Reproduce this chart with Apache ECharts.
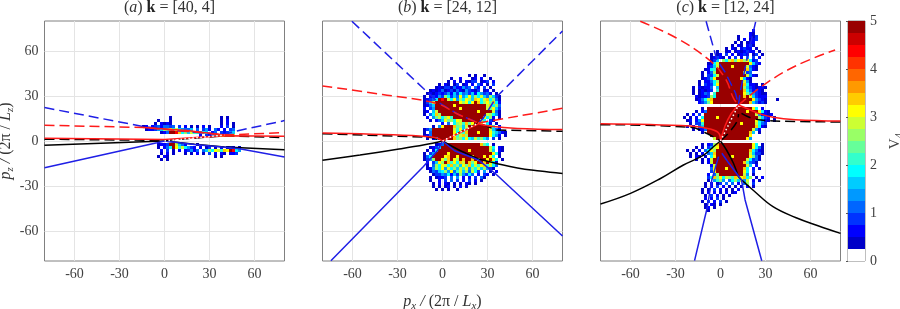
<!DOCTYPE html>
<html><head><meta charset="utf-8">
<style>html,body{margin:0;padding:0;background:#fff}#c{width:900px;height:309px}</style>
<script src="https://cdn.jsdelivr.net/npm/echarts@6/dist/echarts.min.js"></script>
</head><body><div id="c"></div>
<script>
const tickValues = [-60,-30,0,30,60];
// colour levels, each 0.25 wide, 0 to 5
const colorLevels = ['#ffffff','#0000c8','#0000ff','#0033ff','#0066ff','#0099ff','#00ccff','#00ffff','#33ffcc','#66ff99','#99ff66','#ccff33','#ffff00','#ffcc00','#ff9900','#ff6600','#ff3300','#ff0000','#cc0000','#990000'];
const levelKey = '.123456789abcdefghij';
// heat cells: [pz, string of colour levels], cell step 2 in px and pz, starting at the panel's first px
const aStartPx = -16;
const aRows = [
[16,'..........1................1.1'],
[14,'......1...1................1.2'],
[12,'.....1.2121................1.2.1'],
[10,'.12.23424434.3.2.1.1.2.1...2.3.1'],
[8,'..122356a9c7b65446.4.352.42.2.34'],
[6,'.......124jjhd7a6b88576.24.32356'],
[4,'....................2.3246abd9cb'],
[-2,'......1223jjb642...1'],
[-4,'......1.247jc8b7532.2.13.1.2.132.1'],
[-6,'.......2.3.1.2.23524.46a7cb8dcjh75'],
[-8,'.......1.2.1...1.1.2.1.3.2.21.223.'],
[-10,'......1.21...............1.1.'],
[-12,'.......1.1']];
const bStartPx = -16;
const bRows = [
[44,'.................1.1..1'],
[42,'...........1..2...12.2..1'],
[40,'..........1.2.1.2133.123.2'],
[38,'.......1.21.13.12.2.42.1.3'],
[36,'......121331422534.42.3.1'],
[34,'....12124123142153213.12.1'],
[32,'...1212323526374536275342.1'],
[30,'..1.23253a7364c57c6a7b64a631'],
[28,'..12347jhjb7c5a7ca6dc7bd7a41'],
[26,'..136bjjjjjjjjcac7cjd7ac9d72'],
[24,'..1246jjjjjjcjjjjjjjjjjbd7a4'],
[22,'..2.35jjjjjjjjcjjjjjjjjb9c63'],
[20,'..12.6bjjjjjjjjjjjjjcjjjjb41'],
[18,'..1.47dajjjjjjjjjjjjjjjba751'],
[16,'...2.59b7ac8jjjjjjjjjjc7a2.1'],
[14,'....1.246c9a7cbjjjjjjb7.31'],
[12,'........2.4.7ab8d9cjjb.72.1'],
[10,'.....1.5cjjjd9a6bjjjjjjjc7.2'],
[8,'..135jjjjjjjb8c6ajjjjjjjb642.'],
[6,'..1.4jjjjjjjc7a8djjjcjjjc86421'],
[4,'..124jjjjjjjc8bdajjjjjjjc752.1'],
[2,'...1.25jjjjjd9a7c76b8a75.3.1'],
[-2,'......124jjjjjjjjjjjjd97.1'],
[-4,'....1236jjjjjjjjjjjjjjjjb7.21'],
[-6,'...1.27jjjjjjjjjjcjjjjjjb6.21'],
[-8,'..1.35jjjjcjjjjjjjjjjjjjjc71'],
[-10,'..147jjjjcdjjcjjjjdjjjcjc7.1'],
[-12,'..135ajjc9djcajdjjdjajjcjc7.1'],
[-14,'...2.36cajd8c7dbjd9cjjdjc71'],
[-16,'...1.4a7cb7d8a6c9d7b8cd8b74'],
[-18,'...125a7c5b7a6b8c5a7b6a531'],
[-20,'....14367a5c48b6a4b73.5.1.2'],
[-22,'.....133547263a5374.2.32.1'],
[-24,'....1.1223.4.5.2.2.3.41'],
[-26,'....1..2.3.4.3.2.3.2.1'],
[-28,'.....1.2.21.1.1.21.1'],
[-30,'.....1.1.12.1.2.1'],
[-32,'......1.1.1..1']];
const cStartPx = -26;
const cRows = [
[74,'........................2'],
[72,'.......................21'],
[70,'...................1...213'],
[68,'...................1.2.123'],
[66,'..................1.1.122'],
[64,'.................1.21.231'],
[62,'...............1.21.2322.1'],
[60,'............1..12.1212322.1'],
[58,'..........1.12.3.2.1232.13.1'],
[56,'..........12321.2.3.2.5.3.2'],
[54,'..........136.a7bd9cdac723'],
[52,'.........127bjjjjjjjjjjc632'],
[50,'.........236bjjjjcjjjjb421'],
[48,'........1278jjjjjjjjjjd521'],
[46,'.......1.24ajjjjjjjjjb34'],
[44,'.......1.337bjjjjjjjjjb521'],
[42,'.......1236cjjjjjjjjc621'],
[40,'......1.2247ajjjjjjjjb51'],
[38,'......1.3237cjjjjjjjjd7221.1'],
[36,'....1.21224.6jjjjjjjja6321221'],
[34,'....1.12123.8jjjjjjjjd742321'],
[32,'....1.1243.8jjjjjjjjjc9653211'],
[30,'.....21223a7jjjjjjjjjdjc63222'],
[28,'.....1247bdjjjjjjjjjjjjjc5321...1'],
[26,'......2359cjjjjjjjjjjjjd64231'],
[22,'.......1.jjjjjjjjjjjjjjjc7.2'],
[20,'.....1.24jjjjjjjjjjjjjcjjjc721'],
[18,'..1.2.3.jjjjjjjjjjjjjjjjjb52212'],
[16,'.1.1.2.7jjjjcjjjjjjjjjjjjja632.1'],
[14,'..12.25cjjjjjjjjjjjjjjjjjc7521.1'],
[12,'...1.338jjjjjjjjjjjjcjjjjb743'],
[10,'..1.2.46jjjjjjjjjjjjjjjjjd721'],
[8,'....1.224jjjjjjjjjjjjjjjb52'],
[6,'.......1.jjjjjjjjjjjjjjd6.1'],
[4,'..........jjjjjjjjjjjjjc'],
[2,'...........bjjjjjjjjjjc5'],
[-2,'.......1.23adjjjjjjjjjjjc7.1'],
[-4,'.....1.1.35bcjjjjjjjjjjjc741'],
[-6,'..1.1.2.47cajjjjjjjjjjjd7421'],
[-8,'...1.1.2.46djjjjjjjjjjjb6331'],
[-10,'...1.21.1.7cjjjjjcjjjjjc941'],
[-12,'.....1.1.2bjjjjjjjjjjjb7341'],
[-14,'.......1.2bjjjjjjjjjjd8431'],
[-16,'..........2bjjjjjjjjjjb6.2'],
[-18,'..........4cjjjcjjjjjd7.2.1'],
[-20,'..........3cjjjjjjjjjc7.3'],
[-22,'.........2.4ajjjjjjjjb5.1'],
[-24,'.........37d9c7ba8dbcd7a.1.2'],
[-26,'.........1.58a5.47a6b5b.2.1'],
[-28,'........1.2.13.4.4.2.4a.3'],
[-30,'........1.2.3.2.1.1.1.2.1'],
[-32,'.......1.1.3.2.1.1.2'],
[-34,'.......1.2.2.1.2.12'],
[-36,'........1.3.2.1.1'],
[-38,'........2.2.3.1'],
[-40,'.......1.3.2.3.1'],
[-42,'........1.21.1'],
[-44,'........12.1'],
[-46,'.........1']];

// curves, panel a
const aBlueDashed = [[-80,22.3],[-14,9.6],[12,6.5],[40,4.5],[46,6.2],[80,13.6]];
const aRedDashed = [[-80,10.5],[-14,9],[20,6],[40,4],[80,5.6]];
const aRedSolidTop = [[-14,9],[15,7],[44,3.5]];
const aRedSolid = [[-80,1.8],[0,1],[40,3.5],[80,3.2]];
const aBlackDashed = [[-80,1.2],[-20,0.6],[0,0.3],[40,3.5],[80,2.3]];
const aBlackSolid = [[-80,-2.9],[0,0],[20,-2.2],[40,-4],[80,-5.8]];
const aBlueSolid = [[-80,-17.8],[-5,-1.2],[0,0],[20,-2.4],[40,-4.2],[50,-5.2],[80,-10.7]];
const aWhiteDotted = [[0,0],[40,4]];
// curves, panel b
const bBlueDashed = [[-60.4,79.8],[-12.7,35],[-3,26],[10,18],[24,12],[27,15],[36.2,29.6],[80,73.3]];
const bRedDashedLeft = [[-80,36.7],[-40,31],[-3.8,25],[10,18],[24,12]];
const bRedDashedRight = [[24,12],[50,16.5],[80,21.8]];
const bRedSolidLeft = [[-80,5.3],[-20,3.6],[-4,2],[0,0]];
const bRedSolidMid = [[0,0],[24,11.5]];
const bRedSolidRight = [[24,11.5],[32,9.8],[50,8.3],[80,7.6]];
const bBlackDashed = [[-80,4.9],[-8,2.4],[0,0],[14,7],[24,12],[36,7.3],[80,6.5]];
const bBlackSolidLeft = [[-80,-12.8],[-55,-9.3],[-30,-5.5],[-12,-2.5],[0,0]];
const bBlackSolidMid = [[0,0],[12,-6.5],[24,-12]];
const bBlackSolidRight = [[24,-12],[36,-15],[50,-18],[65,-20],[80,-21.7]];
const bBlueSolid = [[-74.4,-79.8],[-12.7,-17],[-3,-6],[0,0],[8,-6.5],[24,-12.7],[35,-21.5],[80,-63.3]];
const bWhiteDotted = [[0,0],[24,12]];
// curves, panel c
const cBlueDashedLeft = [[-9.6,79.8],[-2.4,54],[3,46],[10,32],[12,24]];
const cBlueDashedRight = [[12,24],[13,32],[17.5,54],[23.5,79.8]];
const cRedDashedLeft = [[-53.5,79.8],[-30,69],[-8,54.4],[3,42],[8.7,28.4],[12,24]];
const cRedDashedRight = [[12,24],[28.7,37.3],[50,50],[76.4,60.7]];
const cRedSolid = [[-80,11.5],[-20,10],[-7,8],[-1,5],[0,0]];
const cRedSolidMid = [[0,0],[3,10],[7,18],[12,24]];
const cRedSolidRight = [[12,24],[18,21.5],[25,18.5],[35,15.8],[50,14.2],[80,13.3]];
const cBlackDashed = [[-80,10.9],[-20,9.1],[-9,5],[0,0]];
const cBlackDashedMid = [[0,0],[6,6],[11,13],[12,18]];
const cBlackDashedRight = [[14,18.4],[20,15.5],[27,14],[40,13.2],[80,12.7]];
const cBlackSolidLeft = [[-80,-42],[-60,-34.9],[-40,-25],[-24.7,-16],[-11,-9.3],[-4.7,-3.8],[0,0]];
const cBlackSolidMid = [[0,0],[4,-6],[8.7,-15],[12,-24]];
const cBlackSolidRight = [[12,-24],[22,-33],[35,-43.8],[50,-51],[65,-56.5],[80,-61.6]];
const cBlueSolid = [[-17.3,-79.8],[-9,-45],[-5.8,-26],[-1.3,-10.4]];
const cBlueSolidRight = [[0.9,-8.2],[5,-14],[14,-26],[16.4,-39.3],[27.5,-79.8]];
const cWhiteDotted = [[0,0],[12,24]];

const BLUE='#1f1fe6', RED='#ff1a1a', BLACK='#000000';
const dash=[10,5];
function styled(data,color,type,gi,smooth){
  return {type:'line',xAxisIndex:gi,yAxisIndex:gi,data,showSymbol:false,symbol:'none',silent:true,animation:false,z:5,clip:true,smooth:smooth?0.4:false,
    lineStyle:{color,width:1.5,type:type==='dash'?dash:(type==='dot'?[1.5,2.5]:'solid')}};
}
function cellSeries(rows,startPx,gi){
  const data=[];
  rows.forEach(([pz,s])=>{for(let i=0;i<s.length;i++){const lv=levelKey.indexOf(s[i]);if(lv>0)data.push([startPx+2*i,pz,(lv+0.5)*0.25]);}});
  return {type:'custom',xAxisIndex:gi,yAxisIndex:gi,data,silent:true,animation:false,z:3,clip:true,encode:{x:0,y:1},
    renderItem(p,api){
      const x=api.value(0),y=api.value(1),v=api.value(2);
      const a=api.coord([x-1,y+1]),b=api.coord([x+1,y-1]);
      const x0=Math.round(a[0]),y0=Math.round(a[1]),x1=Math.round(b[0]),y1=Math.round(b[1]);
      return {type:'rect',shape:{x:x0,y:y0,width:x1-x0,height:y1-y0},style:{fill:colorLevels[Math.floor(v/0.25)],stroke:null}};
    }};
}
const serif='"Liberation Serif","DejaVu Serif",serif';
const TXT='#404040';
const rich={it:{fontFamily:serif,fontStyle:'italic',fontWeight:'normal',fontSize:16,lineHeight:20,color:'#333'},
  rm:{fontFamily:serif,fontWeight:'normal',fontSize:16,lineHeight:20,color:'#333'},
  bd:{fontFamily:serif,fontWeight:'bold',fontSize:16,lineHeight:20,color:'#222'},
  sub:{fontFamily:serif,fontStyle:'italic',fontWeight:'normal',fontSize:11,lineHeight:20,verticalAlign:'bottom',color:'#333'},
  subr:{fontFamily:serif,fontSize:11,lineHeight:20,verticalAlign:'bottom',color:'#444'},
  v:{fontFamily:serif,fontSize:15,lineHeight:20,color:'#444'}};
const lefts=[44.5,322.5,600.5];
const W=240,H=240,T=21;
const grids=lefts.map(l=>({left:l,top:T,width:W,height:H,show:true,borderColor:'#808080',borderWidth:1,backgroundColor:'#fff',outerBoundsMode:'none'}));
grids.push({left:848,top:T,width:17,height:H,show:true,borderColor:'#808080',borderWidth:1,backgroundColor:'#fff',outerBoundsMode:'none'});
const pAxis=(showLabel,extra)=>Object.assign({type:'value',min:-80,max:80,
  axisLine:{show:false},axisTick:{show:false,customValues:tickValues},
  axisLabel:{show:showLabel,customValues:tickValues,fontFamily:serif,fontSize:14,color:TXT,margin:6,showMinLabel:true,showMaxLabel:true},
  splitLine:{show:true,lineStyle:{color:'#e4e4e4',width:1}}},extra||{});
const xName='{it|p}{sub|x}{it| / }{rm|(2π / }{it|L}{sub|x}{rm|)}';
const yName='{it|p}{sub|z}{it| / }{rm|(2π / }{it|L}{sub|z}{rm|)}';
const xAxes=[0,1,2].map(i=>pAxis(true,Object.assign({gridIndex:i},i===1?{name:xName,nameLocation:'middle',nameGap:31,nameTextStyle:{rich}}:{})));
const yAxes=[0,1,2].map(i=>pAxis(i===0,Object.assign({gridIndex:i},i===0?{name:yName,nameLocation:'middle',nameGap:24,nameRotate:90,nameTextStyle:{rich}}:{})));
xAxes.push({type:'value',gridIndex:3,min:0,max:1,show:false});
yAxes.push({type:'value',gridIndex:3,min:0,max:5,interval:1,position:'right',axisLine:{show:false},
  axisTick:{show:true,inside:true,length:2,lineStyle:{color:'#555'}},
  axisLabel:{fontFamily:serif,fontSize:14,color:TXT,margin:5},splitLine:{show:false},
  name:'{v|V}{subr|4}',nameLocation:'middle',nameGap:20,nameRotate:90,nameTextStyle:{rich}});
const titles=[['a','[40, 4]',164.5],['b','[24, 12]',442.5],['c','[12, 24]',720.5]].map(([l,k,x])=>({
  text:`{rm|(}{it|${l}}{rm|) }{bd|k}{rm| = ${k}}`,left:x,top:-7,textAlign:'center',textStyle:{fontWeight:'normal',rich}}));
const series=[
 cellSeries(aRows,aStartPx,0),cellSeries(bRows,bStartPx,1),cellSeries(cRows,cStartPx,2),
 styled(aBlackSolid,BLACK,'solid',0),styled(aBlueSolid,BLUE,'solid',0),styled(aBlackDashed,BLACK,'dash',0),styled(aBlueDashed,BLUE,'dash',0),styled(aRedDashed,RED,'dash',0),styled(aRedSolid,RED,'solid',0),styled(aRedSolidTop,RED,'solid',0),styled(aWhiteDotted,'#fff','dot',0),
 styled(bBlackSolidLeft,BLACK,'solid',1,true),styled(bBlackSolidMid,BLACK,'solid',1,true),styled(bBlackSolidRight,BLACK,'solid',1,true),styled(bBlueSolid,BLUE,'solid',1),styled(bBlackDashed,BLACK,'dash',1),styled(bBlueDashed,BLUE,'dash',1),styled(bRedDashedLeft,RED,'dash',1,true),styled(bRedDashedRight,RED,'dash',1,true),styled(bRedSolidLeft,RED,'solid',1,true),styled(bRedSolidMid,RED,'solid',1),styled(bRedSolidRight,RED,'solid',1,true),styled(bWhiteDotted,'#fff','dot',1),
 styled(cBlackSolidLeft,BLACK,'solid',2,true),styled(cBlackSolidMid,BLACK,'solid',2,true),styled(cBlackSolidRight,BLACK,'solid',2,true),styled(cBlueSolid,BLUE,'solid',2),styled(cBlueSolidRight,BLUE,'solid',2),styled(cBlackDashed,BLACK,'dash',2,true),styled(cBlackDashedMid,BLACK,'dash',2,true),styled(cBlackDashedRight,BLACK,'dash',2,true),styled(cBlueDashedLeft,BLUE,'dash',2),styled(cBlueDashedRight,BLUE,'dash',2),styled(cRedDashedLeft,RED,'dash',2,true),styled(cRedDashedRight,RED,'dash',2,true),styled(cRedSolid,RED,'solid',2,true),styled(cRedSolidMid,RED,'solid',2,true),styled(cRedSolidRight,RED,'solid',2,true),styled(cWhiteDotted,'#fff','dot',2),
 {type:'custom',xAxisIndex:3,yAxisIndex:3,data:colorLevels.map((c,i)=>[i]),silent:true,animation:false,z:3,encode:{y:0},
  renderItem(p,api){const i=api.value(0);const a=api.coord([0,(i+1)*0.25]),b=api.coord([1,i*0.25]);
   return {type:'rect',shape:{x:a[0],y:a[1],width:b[0]-a[0],height:b[1]-a[1]},style:{fill:colorLevels[i]}};}}
];
const chart=echarts.init(document.getElementById('c'),null,{renderer:'canvas'});
chart.setOption({animation:false,backgroundColor:'#fff',title:titles,grid:grids,xAxis:xAxes,yAxis:yAxes,series});
</script></body></html>
